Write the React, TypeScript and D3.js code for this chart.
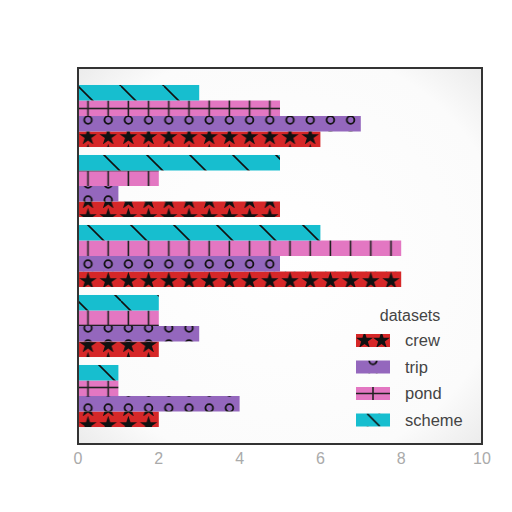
import React from "react";
import * as d3 from "d3";

const categories = ["A", "B", "C", "D", "E"];
const seriesNames = ["crew", "trip", "pond", "scheme"];
const crew = [6, 5, 8, 2, 2];
const trip = [7, 1, 5, 3, 4];
const pond = [5, 2, 8, 2, 1];
const scheme = [3, 5, 6, 2, 1];
const xTicks = [0, 2, 4, 6, 8, 10];
const colors = ["#d62728", "#9467bd", "#e377c2", "#17becf"];

export default function App() {
  const W = 512, H = 512;
  const left = 78, right = 482, top = 68, bottom = 444;
  const x = d3.scaleLinear().domain([0, 10]).range([left, right]);
  const y = d3.scaleBand().domain(categories).range([top + 13, bottom - 13]).paddingInner(0.114).paddingOuter(0.057);
  const series = [crew, trip, pond, scheme];
  const bw = y.bandwidth() / 4;
  const patIds = ["pStar", "pCirc", "pPond", "pDiag"];

  const starPath = d3.symbol().type(d3.symbolStar).size(95)() as string;
  const font = "Liberation Sans, Arial, sans-serif";

  return (
    <svg width={W} height={H} style={{ display: "block", position: "absolute", left: 0, top: 0 }}>
      <defs>
        <pattern id="pStar" patternUnits="userSpaceOnUse" x={left} y={0} width={20.2} height={16}>
          <rect width={20.2} height={16} fill={colors[0]} />
          <path d={starPath} transform="translate(10,9)" fill="#111" />
        </pattern>
        <pattern id="pCirc" patternUnits="userSpaceOnUse" x={left} y={0} width={20.2} height={16}>
          <rect width={20.2} height={16} fill={colors[1]} />
          <circle cx={10} cy={8} r={3.8} fill="none" stroke="#111" strokeWidth={1.8} />
        </pattern>
        <pattern id="pPond" patternUnits="userSpaceOnUse" x={left} y={0} width={20.2} height={31}>
          <rect width={20.2} height={31} fill={colors[2]} />
          <line x1={10} x2={10} y1={0} y2={31} stroke="#222" strokeWidth={1.6} />
          <line x1={0} x2={20.2} y1={15.5} y2={15.5} stroke="#222" strokeWidth={1.6} />
        </pattern>
        <pattern id="pDiag" patternUnits="userSpaceOnUse" x={left} y={0} width={43} height={43}>
          <rect width={43} height={43} fill={colors[3]} />
          <line x1={0} y1={0} x2={43} y2={43} stroke="#111" strokeWidth={1.6} />
          <line x1={-43} y1={0} x2={0} y2={43} stroke="#111" strokeWidth={1.6} />
          <line x1={43} y1={0} x2={86} y2={43} stroke="#111" strokeWidth={1.6} />
        </pattern>
        <radialGradient id="bg" cx="0.5" cy="0.5" r="0.7">
          <stop offset="0" stopColor="#ffffff" />
          <stop offset="0.8" stopColor="#fbfbfb" />
          <stop offset="1" stopColor="#ececec" />
        </radialGradient>
        <pattern id="pStarL" patternUnits="userSpaceOnUse" x={356} y={334} width={17} height={13}>
          <rect width={17} height={13} fill={colors[0]} />
          <path d={starPath} transform="translate(8.5,6.5)" fill="#111" />
        </pattern>
        <pattern id="pCircL" patternUnits="userSpaceOnUse" x={356} y={360.5} width={34} height={13}>
          <rect width={34} height={13} fill={colors[1]} />
          <circle cx={17} cy={0} r={3.8} fill="none" stroke="#111" strokeWidth={1.8} />
        </pattern>
        <pattern id="pPondL" patternUnits="userSpaceOnUse" x={356} y={387} width={34} height={13}>
          <rect width={34} height={13} fill={colors[2]} />
          <line x1={17} x2={17} y1={0} y2={13} stroke="#222" strokeWidth={1.6} />
          <line x1={0} x2={34} y1={6.5} y2={6.5} stroke="#222" strokeWidth={1.6} />
        </pattern>
        <pattern id="pDiagL" patternUnits="userSpaceOnUse" x={356} y={413.5} width={34} height={13}>
          <rect width={34} height={13} fill={colors[3]} />
          <line x1={11} y1={0} x2={24} y2={13} stroke="#111" strokeWidth={1.6} />
        </pattern>
      </defs>
      <rect x={0} y={0} width={W} height={H} fill="#fff" />
      <rect x={left} y={top} width={right - left} height={bottom - top} fill="url(#bg)" />
      {categories.map((c, i) =>
        series.map((s, k) => {
          const y0 = (y(c) as number) + (3 - k) * bw;
          return (
            <rect key={c + k} x={x(0)} y={y0} width={x(s[i]) - x(0)} height={bw} fill={`url(#${patIds[k]})`} />
          );
        })
      )}
      <rect x={left} y={top} width={right - left} height={bottom - top} fill="none" stroke="#333" strokeWidth={2} />
      {xTicks.map((t) => (
        <text key={t} x={x(t)} y={464} textAnchor="middle" fontFamily={font} fontSize={16} fill="#aaa">
          {t}
        </text>
      ))}
      <g fontFamily={font} fill="#444">
        <text x={410} y={321} textAnchor="middle" fontSize={16}>datasets</text>
        {[0, 1, 2, 3].map((k) => {
          const ly = 334 + k * 26.5;
          return (
            <g key={k}>
              <rect x={356} y={ly} width={34} height={13} fill={`url(#${patIds[k]}L)`} />
              <text x={405} y={ly + 12} fontSize={16.5}>{seriesNames[k]}</text>
            </g>
          );
        })}
      </g>
    </svg>
  );
}
